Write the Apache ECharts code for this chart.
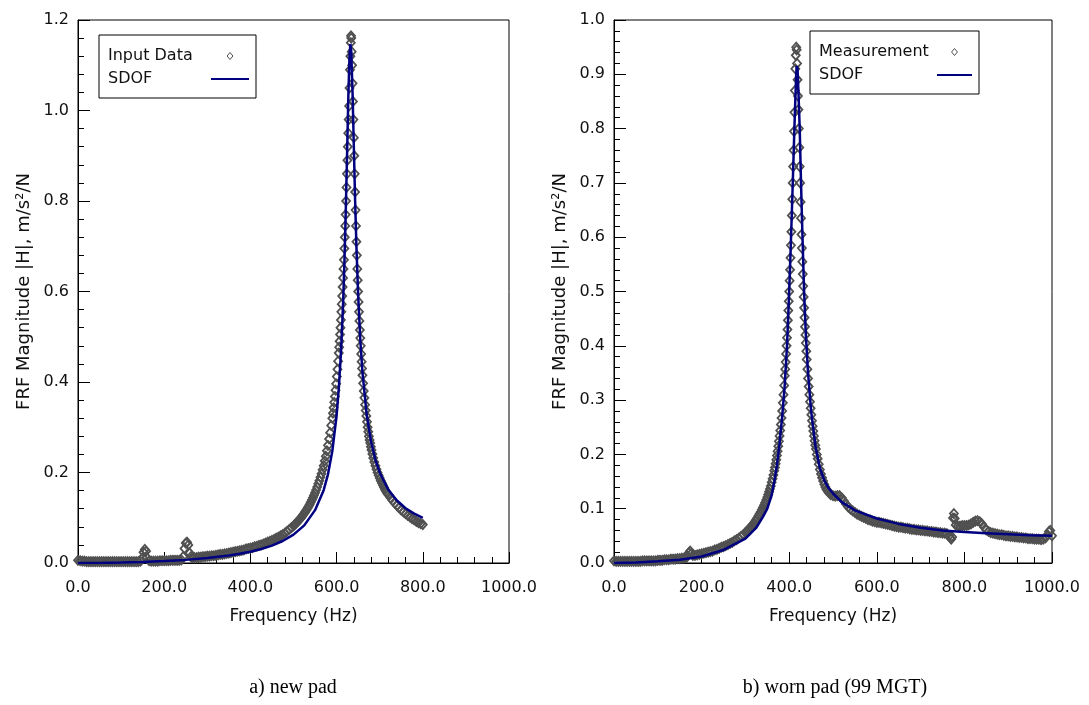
<!DOCTYPE html>
<html>
<head>
<meta charset="utf-8">
<title>FRF magnitude - new pad vs worn pad</title>
<script src="https://cdn.jsdelivr.net/npm/echarts@6/dist/echarts.min.js"></script>
<style>
  html, body { margin: 0; padding: 0; background: #fff; }
  #chart { width: 1089px; height: 705px; }
</style>
</head>
<body>
<div id="chart"></div>
<script>
// a) new pad: measured FRF points [Hz, m/s^2/N]
const newPadInput = [
  [0,0.006],[5,0.005],[10,0.004],[15,0.004],[20,0.003],[25,0.003],[30,0.003],[35,0.003],[40,0.003],[45,0.003],
  [50,0.003],[55,0.003],[60,0.003],[65,0.003],[70,0.003],[75,0.003],[80,0.003],[85,0.003],[90,0.003],[95,0.003],
  [100,0.003],[105,0.003],[110,0.003],[115,0.003],[120,0.003],[125,0.003],[130,0.003],[135,0.003],[140,0.003],[145,0.004],
  [150,0.012],[152,0.024],[155,0.030],[158,0.026],[160,0.012],[165,0.005],[170,0.004],[175,0.004],[180,0.004],[185,0.004],
  [190,0.005],[195,0.005],[200,0.005],[205,0.005],[210,0.005],[215,0.006],[220,0.006],[225,0.006],[230,0.006],[235,0.006],
  [240,0.007],[244,0.014],[247,0.032],[250,0.044],[253,0.046],[256,0.040],[259,0.022],[262,0.014],[265,0.012],[270,0.012],
  [275,0.012],[280,0.013],[285,0.013],[290,0.014],[295,0.014],[300,0.015],[305,0.015],[310,0.016],[315,0.016],[320,0.017],
  [325,0.018],[330,0.019],[335,0.019],[340,0.020],[345,0.021],[350,0.022],[355,0.023],[360,0.024],[365,0.025],[370,0.026],
  [375,0.027],[380,0.028],[385,0.029],[390,0.031],[395,0.032],[400,0.033],[405,0.034],[410,0.036],[415,0.037],[420,0.039],
  [425,0.040],[430,0.042],[435,0.044],[440,0.046],[445,0.048],[450,0.050],[455,0.052],[460,0.055],[465,0.057],[470,0.060],
  [475,0.063],[480,0.066],[485,0.070],[490,0.074],[495,0.078],[500,0.082],[502.5,0.0845],[505,0.087],[507.5,0.0895],[510,0.092],
  [512.5,0.0945],[515,0.097],[517.5,0.100],[520,0.103],[522.5,0.1065],[525,0.110],[527.5,0.1135],[530,0.117],[532.5,0.121],[535,0.125],
  [537.5,0.1295],[540,0.134],[542.5,0.139],[545,0.144],[547.5,0.1495],[550,0.155],[552.5,0.1615],[555,0.168],[557.5,0.175],[560,0.182],
  [562.5,0.1895],[565,0.197],[567.5,0.206],[570,0.215],[572.5,0.2255],[575,0.236],[577.5,0.248],[580,0.260],[582.5,0.274],[585,0.288],
  [587.5,0.304],[590,0.320],[591.5,0.331],[593,0.343],[594.5,0.355],[596,0.368],[597.5,0.382],[599,0.396],[600.5,0.412],[602,0.428],
  [603.5,0.446],[605,0.464],[606,0.477],[607,0.49],[608,0.505],[609,0.52],[610,0.537],[611,0.555],[612,0.572],[613,0.59],
  [614,0.61],[615,0.63],[616,0.65],[617,0.67],[618,0.695],[619,0.72],[620,0.745],[621,0.77],[622,0.80],[623,0.83],
  [624,0.86],[625,0.89],[626,0.92],[627,0.95],[628,0.98],[629,1.01],[630,1.05],[631,1.09],[632,1.12],[633,1.15],
  [633.5,1.165],[634,1.16],[635,1.13],[636,1.10],[637,1.06],[638,1.02],[639,0.98],[640,0.94],[641,0.90],[642,0.86],
  [643,0.82],[644,0.78],[645,0.745],[646,0.71],[647,0.68],[648,0.65],[649,0.625],[650,0.60],[651,0.577],[652,0.555],
  [653,0.535],[654,0.515],[655,0.497],[656,0.48],[657,0.462],[658,0.445],[659,0.43],[660,0.415],[661.5,0.397],[663,0.38],
  [664.5,0.365],[666,0.35],[667.5,0.337],[669,0.325],[670.5,0.312],[672,0.30],[673.5,0.29],[675,0.28],[676.5,0.272],[678,0.265],
  [679.5,0.257],[681,0.25],[683,0.241],[685,0.232],[687.5,0.223],[690,0.215],[692.5,0.207],[695,0.200],[697.5,0.194],[700,0.188],
  [702.5,0.182],[705,0.177],[707.5,0.172],[710,0.167],[712.5,0.162],[715,0.158],[717.5,0.154],[720,0.151],[725,0.144],[730,0.138],
  [735,0.132],[740,0.127],[745,0.122],[750,0.117],[755,0.113],[760,0.109],[765,0.105],[770,0.102],[775,0.098],[780,0.095],
  [785,0.092],[790,0.089],[795,0.087],[800,0.085]
];

// a) new pad: SDOF fit
const newPadFit = [
  [0,0],[50,0.0002],[100,0.001],[150,0.0022],[200,0.0042],[250,0.0069],[300,0.0109],[350,0.0166],[375,0.0203],[400,0.025],
  [425,0.0309],[450,0.0385],[475,0.0486],[500,0.0626],[525,0.0832],[550,0.1168],[570,0.161],[580,0.196],[590,0.247],[600,0.326],
  [605,0.384],[610,0.463],[615,0.572],[618,0.66],[621,0.767],[624,0.891],[627,1.022],[630,1.123],[632,1.147],[634,1.13],
  [637,1.04],[640,0.92],[643,0.80],[646,0.699],[650,0.592],[655,0.493],[660,0.421],[670,0.327],[680,0.268],[690,0.228],
  [700,0.2],[720,0.162],[740,0.138],[760,0.121],[780,0.109],[800,0.0995]
];

// b) worn pad (99 MGT): measured FRF points
const wornPadMeasured = [
  [0,0.004],[5,0.003],[10,0.003],[15,0.003],[20,0.003],[25,0.003],[30,0.003],[35,0.003],[40,0.003],[45,0.003],
  [50,0.003],[55,0.003],[60,0.003],[65,0.004],[70,0.004],[75,0.004],[80,0.004],[85,0.004],[90,0.004],[95,0.004],
  [100,0.005],[105,0.005],[110,0.005],[115,0.006],[120,0.006],[125,0.006],[130,0.007],[135,0.007],[140,0.007],[145,0.008],
  [150,0.008],[155,0.009],[160,0.009],[165,0.010],[168,0.013],[171,0.019],[174,0.022],[177,0.018],[180,0.014],[185,0.014],
  [190,0.015],[195,0.016],[200,0.017],[205,0.018],[210,0.019],[215,0.020],[220,0.021],[225,0.022],[230,0.024],[235,0.025],
  [240,0.027],[245,0.029],[250,0.030],[255,0.032],[260,0.034],[265,0.036],[270,0.038],[275,0.041],[280,0.043],[285,0.046],
  [290,0.049],[295,0.052],[300,0.056],[302.5,0.058],[305,0.060],[307.5,0.062],[310,0.064],[312.5,0.0665],[315,0.069],[317.5,0.0715],
  [320,0.074],[322.5,0.077],[325,0.080],[327.5,0.0835],[330,0.087],[332.5,0.0905],[335,0.094],[337.5,0.098],[340,0.102],[342.5,0.1065],
  [345,0.111],[347.5,0.116],[350,0.121],[352,0.126],[354,0.131],[356,0.1365],[358,0.142],[360,0.1485],[362,0.155],[364,0.162],
  [366,0.170],[367.5,0.176],[369,0.183],[370.5,0.19],[372,0.198],[373.5,0.206],[375,0.215],[376.5,0.224],[378,0.234],[379.5,0.244],
  [381,0.255],[382.5,0.267],[384,0.28],[385.5,0.295],[387,0.31],[388.5,0.327],[390,0.345],[391,0.357],[392,0.37],[393,0.385],
  [394,0.40],[395,0.415],[396,0.43],[397,0.447],[398,0.465],[399,0.482],[400,0.50],[401,0.52],[402,0.54],[403,0.562],
  [404,0.585],[405,0.61],[406,0.64],[407,0.67],[408,0.70],[409,0.73],[410,0.76],[411,0.795],[412,0.83],[413,0.87],
  [414,0.91],[415,0.935],[416,0.95],[417,0.945],[418,0.92],[419,0.89],[420,0.86],[421,0.835],[422,0.80],[423,0.765],
  [424,0.73],[425,0.70],[426,0.665],[427,0.635],[428,0.605],[429,0.58],[430,0.555],[431,0.532],[432,0.51],[433,0.49],
  [434,0.47],[435,0.452],[436,0.435],[437,0.42],[438,0.405],[439,0.39],[440,0.375],[441.5,0.357],[443,0.34],[444.5,0.325],
  [446,0.31],[447.5,0.297],[449,0.285],[450.5,0.273],[452,0.262],[453.5,0.252],[455,0.243],[456.5,0.234],[458,0.225],[459.5,0.217],
  [461,0.21],[463,0.20],[465,0.192],[467.5,0.182],[470,0.172],[472.5,0.164],[475,0.157],[477.5,0.151],[480,0.145],[482.5,0.14],
  [485,0.136],[487.5,0.133],[490,0.130],[492.5,0.128],[495,0.126],[500,0.124],[505,0.123],[510,0.124],[515,0.124],[520,0.120],
  [525,0.114],[530,0.108],[535,0.103],[540,0.099],[545,0.096],[550,0.093],[555,0.090],[560,0.088],[565,0.086],[570,0.084],
  [575,0.082],[580,0.080],[585,0.079],[590,0.077],[595,0.076],[600,0.075],[605,0.075],[610,0.074],[615,0.073],[620,0.072],
  [625,0.071],[630,0.070],[635,0.069],[640,0.068],[645,0.067],[650,0.066],[655,0.066],[660,0.065],[665,0.064],[670,0.064],
  [675,0.063],[680,0.062],[685,0.062],[690,0.061],[695,0.061],[700,0.060],[705,0.060],[710,0.059],[715,0.059],[720,0.058],
  [725,0.058],[730,0.057],[735,0.057],[740,0.056],[745,0.056],[750,0.055],[755,0.055],[760,0.054],[765,0.050],[768,0.046],
  [770,0.044],[772,0.048],[774,0.083],[776,0.091],[778,0.082],[780,0.070],[785,0.068],[790,0.068],[795,0.069],[800,0.069],
  [805,0.069],[810,0.070],[815,0.072],[820,0.075],[825,0.077],[830,0.078],[835,0.076],[840,0.072],[845,0.066],[850,0.061],
  [855,0.058],[860,0.056],[865,0.055],[870,0.054],[875,0.053],[880,0.052],[885,0.052],[890,0.051],[895,0.050],[900,0.050],
  [905,0.049],[910,0.049],[915,0.048],[920,0.048],[925,0.047],[930,0.047],[935,0.046],[940,0.046],[945,0.045],[950,0.045],
  [955,0.045],[960,0.044],[965,0.044],[970,0.044],[975,0.043],[980,0.044],[985,0.046],[990,0.052],[993,0.058],[996,0.060],
  [1000,0.050]
];

// b) worn pad: SDOF fit
const wornPadFit = [
  [0,0],[50,0.001],[100,0.003],[150,0.006],[200,0.012],[250,0.024],[300,0.045],[325,0.065],[340,0.085],[350,0.10],
  [360,0.125],[366,0.15],[372,0.18],[378,0.22],[384,0.27],[390,0.33],[395,0.40],[399,0.48],[403,0.57],[407,0.67],
  [410,0.75],[413,0.83],[416,0.90],[417,0.915],[419,0.91],[421,0.87],[424,0.80],[427,0.70],[430,0.61],[434,0.50],
  [438,0.42],[443,0.35],[450,0.28],[460,0.215],[470,0.175],[480,0.152],[490,0.138],[500,0.128],[520,0.112],[550,0.097],
  [600,0.082],[650,0.072],[700,0.065],[750,0.060],[800,0.057],[850,0.055],[900,0.053],[950,0.051],[1000,0.050]
];

const yAxisTitle = 'FRF Magnitude |H|, m/s\u00b2/N';
const xAxisTitle = 'Frequency (Hz)';
const captions = ['a) new pad', 'b) worn pad (99 MGT)'];

const font = 'DejaVu Sans, Verdana, sans-serif';
const serif = 'Liberation Serif, Times New Roman, serif';
const navy = '#000080';
const grey = '#505050';
// small hollow diamond for the legend (path icons keep their aspect)
const diamondIcon = 'path://M5,0 L10,6 L5,12 L0,6 Z';

function xAxis(gridIndex) {
  return {
    type: 'value', gridIndex, min: 0, max: 1000, interval: 200,
    name: xAxisTitle, nameLocation: 'middle', nameGap: 45,
    nameTextStyle: { color: '#111', fontSize: 17, fontFamily: font },
    axisLine: { lineStyle: { color: '#000', width: 1 } },
    axisTick: { inside: true, length: 11, lineStyle: { color: '#000' } },
    minorTick: { show: true, splitNumber: 5, length: 6, lineStyle: { color: '#000' } },
    axisLabel: { color: '#111', fontSize: 16, fontFamily: font, margin: 17,
      formatter: v => v.toFixed(1) },
    splitLine: { show: false }
  };
}

function yAxis(gridIndex, max, interval) {
  return {
    type: 'value', gridIndex, min: 0, max, interval,
    name: yAxisTitle, nameLocation: 'middle', nameGap: 45, nameRotate: 90,
    nameTextStyle: { color: '#111', fontSize: 18, fontFamily: font },
    axisLine: { lineStyle: { color: '#000', width: 1 } },
    axisTick: { inside: true, length: 12, lineStyle: { color: '#000' } },
    minorTick: { show: true, splitNumber: 5, length: 6, lineStyle: { color: '#000' } },
    axisLabel: { color: '#111', fontSize: 16, fontFamily: font, margin: 9,
      formatter: v => v.toFixed(1) },
    splitLine: { show: false }
  };
}

function scatter(name, data, idx) {
  return {
    name, type: 'scatter', xAxisIndex: idx, yAxisIndex: idx, data,
    symbol: 'diamond', symbolSize: [8, 9],
    itemStyle: { color: 'rgba(255,255,255,0)', borderColor: grey, borderWidth: 1.8, opacity: 1 },
    emphasis: { disabled: true }, z: 2
  };
}

function fit(data, idx) {
  return {
    name: 'SDOF', type: 'line', xAxisIndex: idx, yAxisIndex: idx, data,
    symbol: 'none', showSymbol: false, lineStyle: { color: navy, width: 2.5 }, itemStyle: { color: navy },
    emphasis: { disabled: true }, z: 3
  };
}

function legend(left, top, names, textWidth, iconWidth) {
  return {
    left, top, orient: 'vertical', align: 'right',
    data: names.map(n => n === 'SDOF'
      ? { name: n, itemStyle: { opacity: 0 } }
      : { name: n, icon: diamondIcon, itemStyle: { color: '#fff', borderColor: grey, borderWidth: 1 } }),
    itemWidth: iconWidth, itemHeight: 7, itemGap: 5,
    borderColor: '#000', borderWidth: 1,
    padding: [12, 6, 10, 9],
    selectedMode: false,
    formatter: n => '{t|' + n + '}',
    textStyle: { color: '#111', fontSize: 16, fontFamily: font, lineHeight: 18,
      rich: { t: { width: textWidth, align: 'left', fontSize: 16, fontFamily: font, color: '#111' } } }
  };
}

const chart = echarts.init(document.getElementById('chart'), null, { renderer: 'canvas' });
chart.setOption({
  animation: false,
  backgroundColor: '#fff',
  textStyle: { fontFamily: font },
  grid: [
    { left: 78, top: 20, width: 431, height: 543, show: true, borderColor: '#000', borderWidth: 1 },
    { left: 614, top: 20, width: 438, height: 543, show: true, borderColor: '#000', borderWidth: 1 }
  ],
  xAxis: [xAxis(0), xAxis(1)],
  yAxis: [yAxis(0, 1.2, 0.2), yAxis(1, 1.0, 0.1)],
  legend: [
    legend(99, 35, ['Input Data', 'SDOF'], 98, 38),
    legend(810, 31, ['Measurement', 'SDOF'], 113, 35)
  ],
  series: [
    scatter('Input Data', newPadInput, 0),
    fit(newPadFit, 0),
    scatter('Measurement', wornPadMeasured, 1),
    fit(wornPadFit, 1)
  ],
  graphic: [
    { type: 'text', x: 293, y: 688, style: { text: captions[0], fontSize: 20, fontFamily: serif,
      fill: '#000', textAlign: 'center', textVerticalAlign: 'middle' } },
    { type: 'text', x: 835, y: 688, style: { text: captions[1], fontSize: 20, fontFamily: serif,
      fill: '#000', textAlign: 'center', textVerticalAlign: 'middle' } }
  ]
});
</script>
</body>
</html>
